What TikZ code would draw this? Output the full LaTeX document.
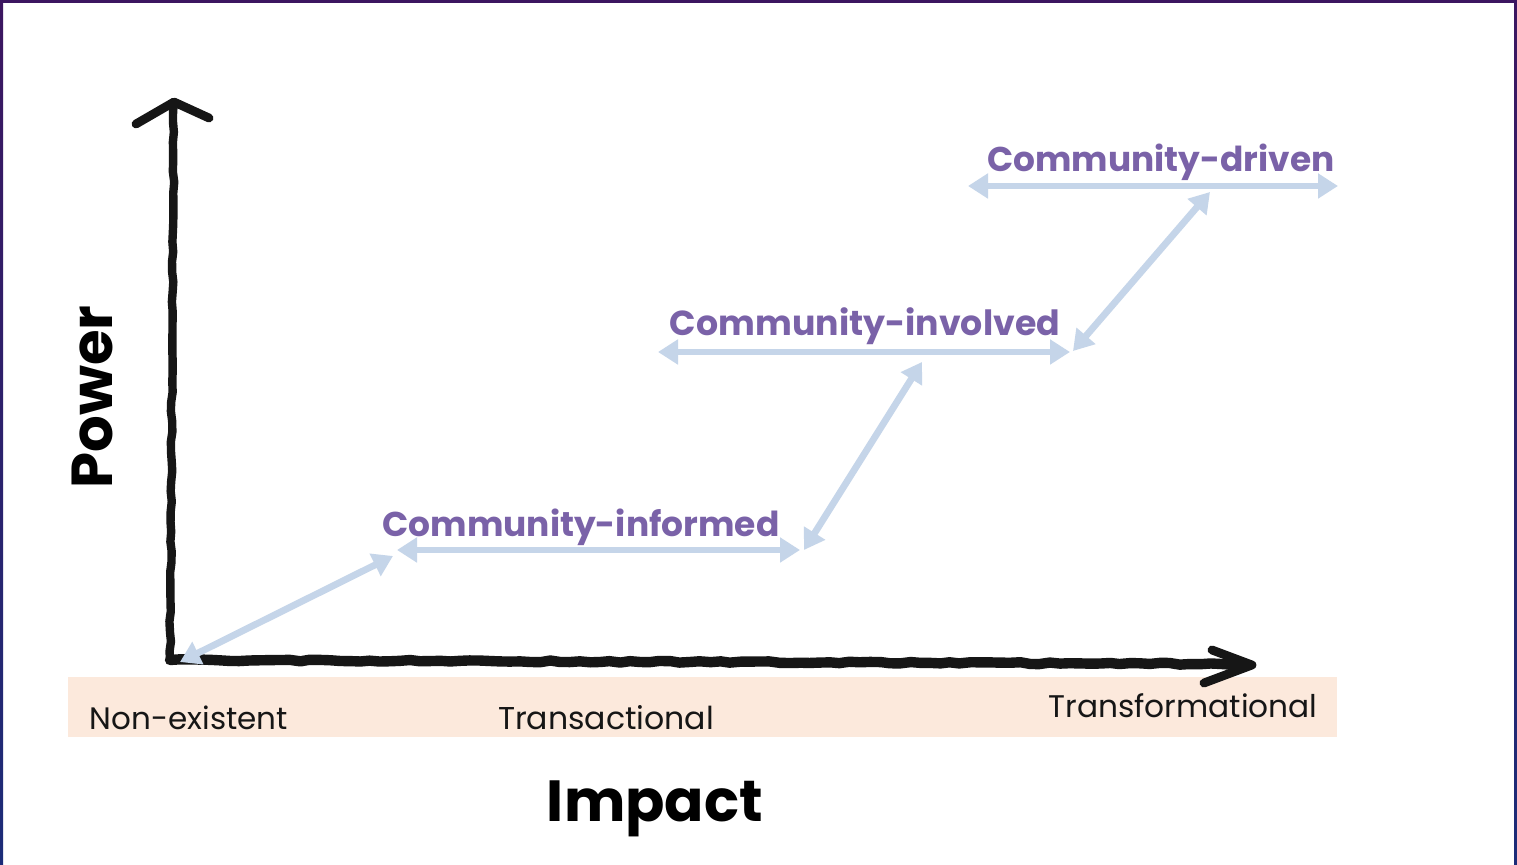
\documentclass[tikz,border=0pt]{standalone}
\usepackage{fontspec}
\setmainfont{Poppins}
\usepackage{graphicx}
\usetikzlibrary{arrows.meta,decorations.pathmorphing}
\definecolor{ptxt}{RGB}{122,98,168}
\definecolor{lblue}{RGB}{197,213,233}
\definecolor{peach}{RGB}{252,233,220}
\definecolor{bpurple}{RGB}{60,22,96}
\definecolor{bnavy}{RGB}{28,44,120}
\definecolor{ink}{RGB}{22,22,22}
\begin{document}
\begin{tikzpicture}[x=0.5pt,y=-0.5pt,
  axisline/.style={ink, decorate, decoration={random steps, segment length=5pt, amplitude=0.45pt}, line cap=round, line join=round},
  axishead/.style={line width=4.4pt, ink, line cap=round, line join=round},
  barrow/.style={line width=3.4pt, lblue, {Triangle[length=10pt,width=12pt]}-{Triangle[length=10pt,width=12pt]}},
  stagelbl/.style={text=ptxt, font=\bfseries, inner sep=0pt, anchor=base},
  bandlbl/.style={text=ink, inner sep=0pt, anchor=center},
  axlbl/.style={text=black, font=\bfseries, inner sep=0pt}]
\useasboundingbox (0,0) rectangle (1517,865);
\fill[white] (0,0) rectangle (1517,865);
% frame
\shade[top color=bpurple, bottom color=bnavy] (0,0) rectangle (3,865);
\shade[top color=bpurple, bottom color=bnavy] (1514,0) rectangle (1517,865);
\fill[bpurple] (0,0) rectangle (1517,3);
% band
\fill[peach] (68,677) rectangle (1337,737);
\node[bandlbl] (ne) at (189,718) {\resizebox{99pt}{!}{Non-existent}};
\node[bandlbl] (tr) at (606,718) {\resizebox{108pt}{!}{Transactional}};
\node[bandlbl] (tf) at (1183,706) {\resizebox{134.5pt}{!}{Transformational}};
% axes
\coordinate (vtop) at (174,102);
\coordinate (corner) at (170,660);
\coordinate (hend) at (1246,664);
\coordinate (vl) at (136,124);
\coordinate (vr) at (209,118);
\coordinate (ht) at (1212,650);
\coordinate (hb) at (1204,683);
\coordinate (htip) at (1252,665);
\draw[axisline, line width=4.2pt] (vtop) -- (corner);
\draw[axisline, line width=5.2pt] (corner) -- (hend);
\draw[axishead] (vl) -- (vtop) -- (vr);
\draw[axishead] (ht) -- (htip) -- (hb);
% axis labels
\node[axlbl, rotate=90] (pw) at (92,397) {\resizebox{91.5pt}{!}{Power}};
\node[axlbl, anchor=base] (im) at (655,822) {\resizebox{108pt}{!}{Impact}};
% stage labels
\node[stagelbl] (ci) at (581,537) {\resizebox{198.5pt}{!}{Community-informed}};
\node[stagelbl] (cv) at (865,336) {\resizebox{195pt}{!}{Community-involved}};
\node[stagelbl] (cd) at (1161,172) {\resizebox{173.5pt}{!}{Community-driven}};
% blue arrows
\coordinate (a1s) at (180,662);
\coordinate (a1e) at (393,556);
\coordinate (h1l) at (397,550);
\coordinate (h1r) at (800,550);
\coordinate (a2s) at (804,550);
\coordinate (a2e) at (922,362);
\coordinate (h2l) at (658,352);
\coordinate (h2r) at (1070,352);
\coordinate (a3s) at (1073,351);
\coordinate (a3e) at (1210,192);
\coordinate (h3l) at (968,186);
\coordinate (h3r) at (1338,186);
\draw[barrow] (a1s) -- (a1e);
\draw[barrow] (h1l) -- (h1r);
\draw[barrow] (a2s) -- (a2e);
\draw[barrow] (h2l) -- (h2r);
\draw[barrow] (a3s) -- (a3e);
\draw[barrow] (h3l) -- (h3r);
\end{tikzpicture}
\end{document}
